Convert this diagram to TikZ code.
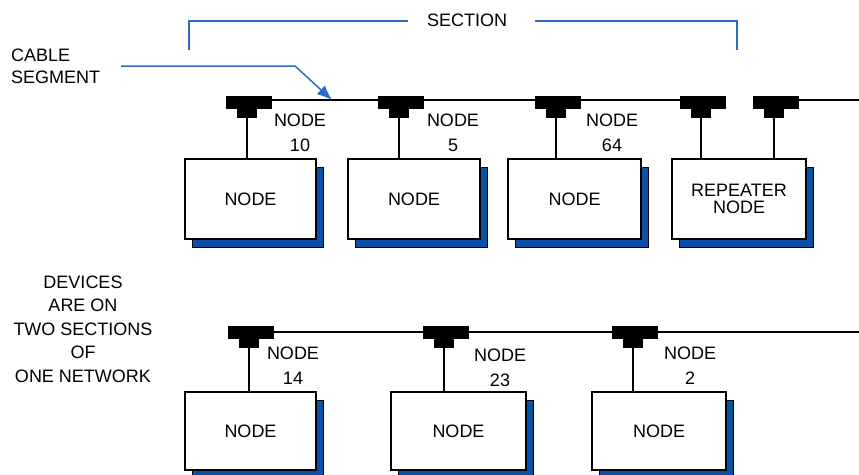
\documentclass[tikz,border=0pt]{standalone}
\usepackage{fontspec}
\setmainfont{Liberation Sans}
\usetikzlibrary{arrows.meta,shadows}
\definecolor{sblue}{HTML}{0A4FA8}
\definecolor{lblue}{HTML}{2A6CC4}
\begin{document}
\begin{tikzpicture}[x=1pt,y=-1pt,
  every node/.style={font=\fontsize{18}{20}\selectfont, inner sep=0pt},
  devbox/.style={draw=black, line width=1.3pt, fill=white, minimum height=80pt,
    general shadow={shadow xshift=7pt, shadow yshift=-8pt, fill=sblue, draw=black, line width=0.6pt}},
  tbar/.style={fill=black, minimum width=46pt, minimum height=13pt},
  tstem/.style={fill=black, minimum width=20pt, minimum height=9pt},
  bus/.style={draw=black, line width=1.6pt},
  drop/.style={draw=black, line width=1.6pt},
  lbl/.style={align=center, font=\fontsize{18}{25}\selectfont},
  bl/.style={draw=lblue, line width=1.5pt}]
\useasboundingbox (0,0) rectangle (859,474);

% ---------- top row ----------
\node[tbar] (t1) at (249,102.5) {};
\node[tstem] (t1s) at (247,113) {};
\node[tbar] (t2) at (401,102.5) {};
\node[tstem] (t2s) at (399,113) {};
\node[tbar] (t3) at (558,102.5) {};
\node[tstem] (t3s) at (556,113) {};
\node[tbar] (t4) at (703,102.5) {};
\node[tstem] (t4s) at (701,113) {};
\node[tbar] (t5) at (776,102.5) {};
\node[tstem] (t5s) at (774,113) {};
\coordinate (e1) at (859,100);

\draw[bus] ([yshift=2.5pt]t1.west) -- ([yshift=2.5pt]t4.east);
\draw[bus] ([yshift=2.5pt]t5.west) -- (e1);

\node[devbox, minimum width=131pt] (b1) at (250.5,199) {NODE};
\node[devbox, minimum width=132pt] (b2) at (414,199) {NODE};
\node[devbox, minimum width=133pt] (b3) at (574.5,199) {NODE};
\node[devbox, minimum width=134pt, align=center, font=\fontsize{18}{17}\selectfont] (b4) at (739,199) {REPEATER\\NODE};

\draw[drop] (t1s.south) -- (b1.north -| t1s.south);
\draw[drop] (t2s.south) -- (b2.north -| t2s.south);
\draw[drop] (t3s.south) -- (b3.north -| t3s.south);
\draw[drop] (t4s.south) -- (b4.north -| t4s.south);
\draw[drop] (t5s.south) -- (b4.north -| t5s.south);

\node[lbl] (l1) at (300,133) {NODE\\10};
\node[lbl] (l2) at (453,133) {NODE\\5};
\node[lbl] (l3) at (612,133) {NODE\\64};

% ---------- bottom row ----------
\node[tbar] (t6) at (251,332) {};
\node[tstem] (t6s) at (249,343) {};
\node[tbar] (t7) at (446,332) {};
\node[tstem] (t7s) at (444,343) {};
\node[tbar] (t8) at (635,332) {};
\node[tstem] (t8s) at (633,343) {};
\coordinate (e2) at (859,332);
\draw[bus] (t6.west) -- (e2);

\node[devbox, minimum width=131pt, minimum height=78pt] (b6) at (250.5,431) {NODE};
\node[devbox, minimum width=135pt, minimum height=78pt] (b7) at (458.5,431) {NODE};
\node[devbox, minimum width=134pt, minimum height=78pt] (b8) at (659,431) {NODE};

\draw[drop] (t6s.south) -- (b6.north -| t6s.south);
\draw[drop] (t7s.south) -- (b7.north -| t7s.south);
\draw[drop] (t8s.south) -- (b8.north -| t8s.south);

\node[lbl] (l6) at (293,366) {NODE\\14};
\node[lbl] (l7) at (500,368) {NODE\\23};
\node[lbl] (l8) at (690,366) {NODE\\2};

% ---------- annotations ----------
\node (sec) at (467,20) {SECTION};
\coordinate (s0) at (189,50);
\coordinate (s1) at (408,21);
\coordinate (s2) at (535,21);
\coordinate (s3) at (737,50);
\draw[bl] (s0) |- (s1);
\draw[bl] (s2) -| (s3);

\node[align=left, anchor=west, font=\fontsize{18}{22}\selectfont] (cab) at (11,66) {CABLE\\SEGMENT};
\coordinate (a0) at (121,66);
\coordinate (a1) at (295,66);
\coordinate (a2) at (332,100);
\draw[bl, -{Latex[length=15pt,width=12pt]}] (a0) -- (a1) -- (a2);

\node[align=center, font=\fontsize{18}{23.5}\selectfont] (dev) at (83,329) {DEVICES\\ARE ON\\TWO SECTIONS\\OF\\ONE NETWORK};
\end{tikzpicture}
\end{document}
